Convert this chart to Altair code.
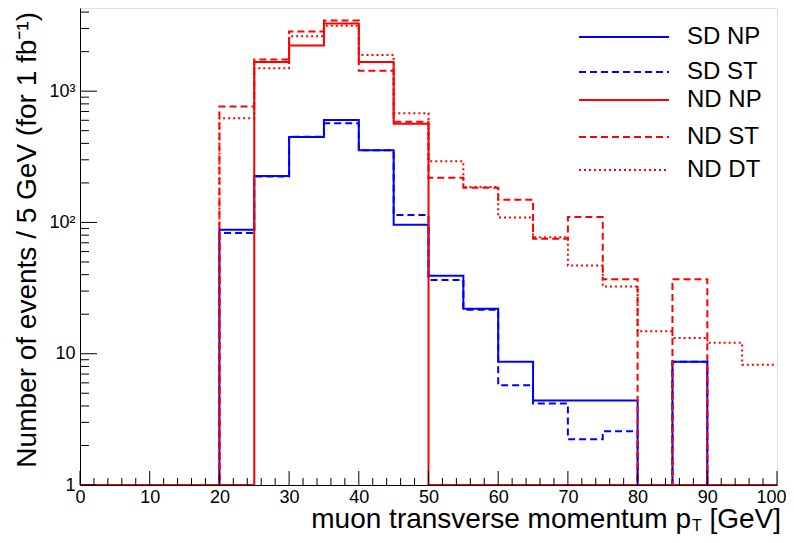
import altair as alt
import pandas as pd

# ---- data (bin left edges, 5 GeV bins from 0 to 100) ----
edges = [0, 5, 10, 15, 20, 25, 30, 35, 40, 45, 50, 55, 60, 65, 70, 75, 80, 85, 90, 95]
x_end = 100

sd_np = [0, 0, 0, 0, 88, 226, 447, 604, 354, 96, 39.3, 22, 8.7, 4.4, 4.4, 4.4, 0, 8.7, 0, 0]
sd_st = [0, 0, 0, 0, 83, 224, 450, 570, 354, 114, 36.5, 21.6, 5.75, 4.17, 2.23, 2.57, 0, 8.7, 0, 0]
nd_np = [0, 0, 0, 0, 0, 1667, 2232, 3278, 1667, 564, 0, 0, 0, 0, 0, 0, 0, 0, 0, 0]
nd_st = [0, 0, 0, 0, 764, 1746, 2851, 3452, 1433, 584, 219, 184, 149, 75, 110, 37, 0, 37, 0, 0]
nd_dt = [0, 0, 0, 0, 623, 1493, 2625, 3148, 1883, 679, 292, 186, 109, 77, 47, 32.5, 14.8, 13.2, 12.1, 8.25]

series_names = ["SD NP", "SD ST", "ND NP", "ND ST", "ND DT"]
series_vals = [sd_np, sd_st, nd_np, nd_st, nd_dt]
series_colors = ["#0000ff", "#0000ff", "#ff0000", "#ff0000", "#ff0000"]
series_dash = [[1, 0], [7, 4], [1, 0], [7, 4], [2, 3]]

x_major = [0, 10, 20, 30, 40, 50, 60, 70, 80, 90, 100]
x_minor = [v for v in range(0, 101, 2) if v % 10 != 0]
y_major = [1, 10, 100, 1000]
y_minor = [m * d for d in (1, 10, 100, 1000) for m in range(2, 10) if m * d <= 4000]

W, H = 697, 477
FONT = "Liberation Sans"
Y_TOP = 4300

xscale = alt.Scale(domain=[0, 100], nice=False, zero=False)
yscale = alt.Scale(type="log", domain=[1, Y_TOP], nice=False)

xaxis = alt.Axis(values=x_major, title=None, ticks=False, labelFontSize=18, labelFont=FONT,
                 labelPadding=3, labelColor="black", domainColor="black", grid=False, labelFlush=False,
                 labelOffset={"condition": {"test": "datum.value == 100", "value": -6}, "value": 0})
yaxis = alt.Axis(values=y_major, title=None, ticks=False, labelFontSize=18, labelFont=FONT,
                 labelPadding=5, labelColor="black", domainColor="black", grid=False, labelFlush=False,
                 labelExpr="datum.value == 100 ? '10²' : datum.value == 1000 ? '10³' : datum.label")


def X():
    return alt.X("x:Q", scale=xscale, axis=xaxis)


def Y():
    return alt.Y("y:Q", scale=yscale, axis=yaxis)


layers = []
for name, vals, col, dash in zip(series_names, series_vals, series_colors, series_dash):
    df = pd.DataFrame({"x": edges + [x_end], "v": vals + [vals[-1]]})
    layers.append(
        alt.Chart(df).transform_calculate(y="max(datum.v, 1)")
        .mark_line(interpolate="step-after", color=col, strokeDash=dash, strokeWidth=2, clip=True)
        .encode(x=X(), y=Y())
    )

# ticks pointing inward
tick_col = "black"
layers.append(alt.Chart(pd.DataFrame({"x": x_major})).mark_rule(color=tick_col, strokeWidth=1)
              .encode(x=X(), y=alt.value(H), y2=alt.value(H - 14)))
layers.append(alt.Chart(pd.DataFrame({"x": x_minor})).mark_rule(color=tick_col, strokeWidth=1)
              .encode(x=X(), y=alt.value(H), y2=alt.value(H - 7)))
layers.append(alt.Chart(pd.DataFrame({"y": y_major})).mark_rule(color=tick_col, strokeWidth=1)
              .encode(y=Y(), x=alt.value(0), x2=alt.value(17)))
layers.append(alt.Chart(pd.DataFrame({"y": y_minor})).mark_rule(color=tick_col, strokeWidth=1)
              .encode(y=Y(), x=alt.value(0), x2=alt.value(9)))

# legend (manual, ROOT-style)
leg_y = [29, 64, 92, 129, 162]
for name, col, dash, ly in zip(series_names, series_colors, series_dash, leg_y):
    d = pd.DataFrame({"t": [name]})
    layers.append(alt.Chart(d).mark_rule(color=col, strokeDash=dash, strokeWidth=2)
                  .encode(x=alt.value(499), x2=alt.value(589), y=alt.value(ly)))
    layers.append(alt.Chart(d).mark_text(font=FONT, fontSize=24, align="left", baseline="middle", color="black")
                  .encode(text="t:N", x=alt.value(607), y=alt.value(ly)))

# axis titles
layers.append(alt.Chart(pd.DataFrame({"t": ["muon transverse momentum p"]}))
              .mark_text(font=FONT, fontSize=28, align="right", baseline="alphabetic", color="black")
              .encode(text="t:N", x=alt.value(611), y=alt.value(520)))
layers.append(alt.Chart(pd.DataFrame({"t": ["T"]}))
              .mark_text(font=FONT, fontSize=16, align="left", baseline="alphabetic", color="black")
              .encode(text="t:N", x=alt.value(612), y=alt.value(523)))
layers.append(alt.Chart(pd.DataFrame({"t": ["[GeV]"]}))
              .mark_text(font=FONT, fontSize=28, align="right", baseline="alphabetic", color="black")
              .encode(text="t:N", x=alt.value(701), y=alt.value(520)))
layers.append(alt.Chart(pd.DataFrame({"t": ["Number of events / 5 GeV (for 1 fb⁻¹)"]}))
              .mark_text(font=FONT, fontSize=28, align="right", baseline="alphabetic", angle=270, color="black")
              .encode(text="t:N", x=alt.value(-44), y=alt.value(4)))

chart = (
    alt.layer(*layers)
    .properties(width=W, height=H, autosize=alt.AutoSizeParams(type="none"),
                padding={"left": 72, "top": 0, "right": 9, "bottom": 50})
    .configure_view(stroke="#555555", strokeWidth=2)
    .configure(background="white")
)

chart.save("out.html", embed_options={"renderer": "svg", "actions": False})
